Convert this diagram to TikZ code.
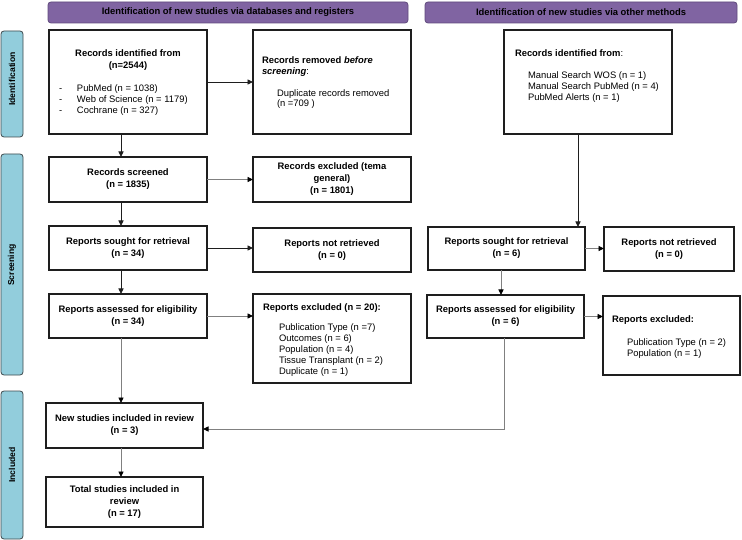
\documentclass[tikz,border=0pt]{standalone}
\usepackage{fontspec}
\setmainfont{Liberation Sans}
\usetikzlibrary{arrows.meta}
\definecolor{hdrfill}{HTML}{8064A2}
\definecolor{hdrdraw}{HTML}{5F4A7C}
\definecolor{sidefill}{HTML}{92CDDC}
\definecolor{sidedraw}{HTML}{3F4A4E}
\definecolor{boxdraw}{HTML}{1E1E1E}
\definecolor{lgray}{HTML}{808080}
\begin{document}
\begin{tikzpicture}[x=1pt,y=-1pt,
  every node/.style={inner sep=0pt,outer sep=0pt},
  hdr/.style={draw=hdrdraw,fill=hdrfill,rounded corners=3pt,line width=0.8pt,anchor=north west,
    font=\fontsize{9.4}{11}\selectfont\bfseries,text=black},
  side/.style={draw=sidedraw,fill=sidefill,rounded corners=3pt,line width=0.8pt,anchor=north west},
  sidetxt/.style={rotate=90,font=\fontsize{8.6}{10}\selectfont\bfseries},
  box/.style={draw=boxdraw,line width=1.1pt,anchor=north west,align=center,
    font=\fontsize{9.4}{12}\selectfont\bfseries},
  ttl/.style={anchor=north west,align=left,font=\fontsize{9.4}{11}\selectfont},
  lst/.style={anchor=north west,align=left,font=\fontsize{9.4}{10.8}\selectfont},
  arr/.style={draw=boxdraw,line width=0.9pt,-{Triangle[length=5.5pt,width=5pt]}},
  garr/.style={draw=lgray,line width=0.9pt,-{Triangle[length=5.5pt,width=5pt,color=black,fill=black]}}
]
\useasboundingbox (0,0) rectangle (742,540);

% headers
\node[hdr,minimum width=360,minimum height=21] (h1) at (48,2) {Identification of new studies via databases and registers};
\node[hdr,minimum width=312,minimum height=21] (h2) at (425,2) {Identification of new studies via other methods};

% side bars
\node[side,minimum width=22,minimum height=106] (s1) at (1,31) {};
\node[side,minimum width=22,minimum height=221] (s2) at (1,154) {};
\node[side,minimum width=22,minimum height=148] (s3) at (1,391) {};
\node[sidetxt] (t1) at (12,79) {Identification};
\node[sidetxt] (t2) at (12,265) {Screening};
\node[sidetxt] (t3) at (12,465) {Included};

% column coordinates
\coordinate (colx) at (121,0);
\coordinate (rcolA) at (578,0);
\coordinate (rcolB) at (501,0);
\coordinate (corner) at (504,429);

% left column
\node[box,minimum width=158,minimum height=104] (A) at (49,30) {};
\node[anchor=north,align=center,font=\fontsize{9.4}{12}\selectfont\bfseries] (At) at (128,49.5) {Records identified from\\(n=2544)};
\node[lst] (Al) at (59,84.8) {\makebox[18pt][l]{-}PubMed (n = 1038)\\\makebox[18pt][l]{-}Web of Science (n = 1179)\\\makebox[18pt][l]{-}Cochrane (n = 327)};

\node[box,minimum width=158,minimum height=104] (B) at (253,30) {};
\node[ttl] (Bt) at (262,56.5) {\textbf{Records removed \textit{before}}\\\textbf{\textit{screening}}:};
\node[lst,font=\fontsize{9.4}{10}\selectfont] (Bl) at (277,89.5) {Duplicate records removed\\(n =709 )};

\node[box,minimum width=158,minimum height=45] (rs) at (49,157) {Records screened\\(n = 1835)};
\node[box,minimum width=158,minimum height=45] (re) at (253,157) {Records excluded (tema\\general)\\(n = 1801)};

\node[box,minimum width=158,minimum height=44] (sr) at (49,226) {Reports sought for retrieval\\(n = 34)};
\node[box,minimum width=158,minimum height=44] (nr) at (253,228) {Reports not retrieved\\(n = 0)};

\node[box,minimum width=158,minimum height=44] (ae) at (49,294) {Reports assessed for eligibility\\(n = 34)};
\node[box,minimum width=158,minimum height=89] (ex) at (253,294) {};
\node[ttl] (ext) at (263,303.5) {\textbf{Reports excluded (n = 20):}};
\node[lst,font=\fontsize{9.4}{11}\selectfont] (exl) at (279,323.8) {Publication Type (n =7)\\Outcomes (n = 6)\\Population (n = 4)\\Tissue Transplant (n = 2)\\Duplicate (n = 1)};

\node[box,minimum width=157,minimum height=45] (ns) at (46,403) {New studies included in review\\(n = 3)};
\node[box,minimum width=157,minimum height=50] (ts) at (46,477) {Total studies included in\\review\\(n = 17)};

% right column
\node[box,minimum width=168,minimum height=104] (C) at (504,30) {};
\node[ttl] (Ct) at (515,49.5) {\textbf{Records identified from}:};
\node[lst,font=\fontsize{9.4}{11}\selectfont] (Cl) at (528,71.5) {Manual Search WOS (n = 1)\\Manual Search PubMed (n = 4)\\PubMed Alerts (n = 1)};

\node[box,minimum width=157,minimum height=43] (sr2) at (428,227) {Reports sought for retrieval\\(n = 6)};
\node[box,minimum width=130,minimum height=44] (nr2) at (604,227) {Reports not retrieved\\(n = 0)};
\node[box,minimum width=157,minimum height=43] (ae2) at (427,295) {Reports assessed for eligibility\\(n = 6)};
\node[box,minimum width=137,minimum height=79] (ex2) at (603,296) {};
\node[ttl] (ex2t) at (612,315.5) {\textbf{Reports excluded:}};
\node[lst] (ex2l) at (627,338.5) {Publication Type (n = 2)\\Population (n = 1)};

% connectors left
\draw[arr] (A.east) -- (A.east -| B.west);
\draw[arr] (A.south -| colx) -- (rs.north -| colx);
\draw[garr] (rs.east) -- (rs.east -| re.west);
\draw[arr] (rs.south -| colx) -- (sr.north -| colx);
\draw[arr] (sr.east) -- (sr.east -| nr.west);
\draw[arr] (sr.south -| colx) -- (ae.north -| colx);
\draw[garr] (ae.east) -- (ae.east -| ex.west);
\draw[garr] (ae.south -| colx) -- (ns.north -| colx);
\draw[garr] (ns.south -| colx) -- (ts.north -| colx);

% connectors right
\draw[arr] (C.south -| rcolA) -- (sr2.north -| rcolA);
\draw[garr] (sr2.east) -- (sr2.east -| nr2.west);
\draw[garr] (sr2.south -| rcolB) -- (ae2.north -| rcolB);
\draw[garr] (ae2.east) -- (ae2.east -| ex2.west);
\draw[garr] (ae2.south -| corner) -- (corner) -- (corner -| ns.east);
\end{tikzpicture}
\end{document}
